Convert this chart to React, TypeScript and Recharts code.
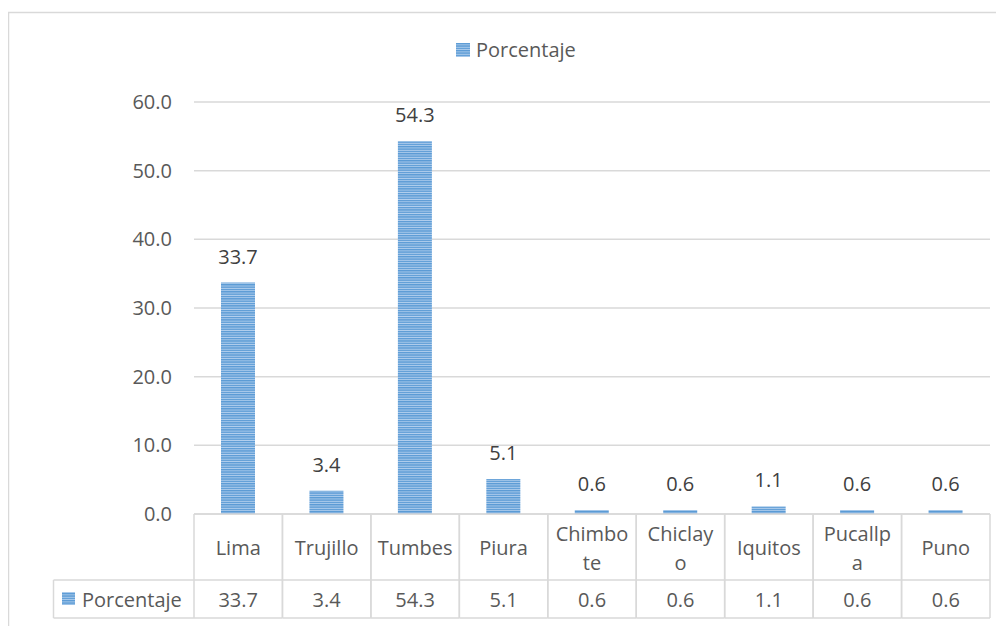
import React from 'react';
import { BarChart, Bar, XAxis, YAxis, CartesianGrid, LabelList, Legend } from 'recharts';

const categories = ['Lima', 'Trujillo', 'Tumbes', 'Piura', 'Chimbote', 'Chiclayo', 'Iquitos', 'Pucallpa', 'Puno'];
const categoryLabelLines = [['Lima'], ['Trujillo'], ['Tumbes'], ['Piura'], ['Chimbo', 'te'], ['Chiclay', 'o'], ['Iquitos'], ['Pucallp', 'a'], ['Puno']];
const porcentaje = [33.7, 3.4, 54.3, 5.1, 0.6, 0.6, 1.1, 0.6, 0.6];
const yTicks = [0, 10, 20, 30, 40, 50, 60];
const seriesName = 'Porcentaje';

const data = categories.map((c, i) => ({ category: c, porcentaje: porcentaje[i] }));

const W = 996;
const H = 618;
const MARGIN = { top: 30, right: 14, bottom: 8, left: 126 };
const Y_AXIS_W = 60;
const LEGEND_H = 64;
const X_AXIS_H = 104;
const PLOT_LEFT = MARGIN.left + Y_AXIS_W;
const PLOT_RIGHT = W - MARGIN.right;
const PLOT_BOTTOM = H - MARGIN.bottom - X_AXIS_H;
const BAND = (PLOT_RIGHT - PLOT_LEFT) / categories.length;
const ROW1 = 66;
const ROW2 = 104;
const LEGEND_CELL_LEFT = 45.5;

const FONT = "'Open Sans', 'Noto Sans', sans-serif";
const GRID = '#d9d9d9';
const TEXT = '#595959';

const TableTick = (props: any) => {
  const { x, payload } = props;
  const idx = payload.index ?? props.index ?? 0;
  const lines = categoryLabelLines[idx] || [String(payload.value)];
  const top = PLOT_BOTTOM;
  const l = x - BAND / 2;
  const r = x + BAND / 2;
  const lineYs = lines.length === 1 ? [top + 33] : [top + 19, top + 48];
  return (
    <g>
      <line x1={l} x2={l} y1={top} y2={top + ROW2} stroke={GRID} strokeWidth={1.5} />
      <line x1={r} x2={r} y1={top} y2={top + ROW2} stroke={GRID} strokeWidth={1.5} />
      <line x1={l} x2={r} y1={top + ROW1} y2={top + ROW1} stroke={GRID} strokeWidth={1.5} />
      <line x1={l} x2={r} y1={top + ROW2} y2={top + ROW2} stroke={GRID} strokeWidth={1.5} />
      {lines.map((t, i) => (
        <text key={i} x={x} y={lineYs[i]} textAnchor="middle" dominantBaseline="central" fill={TEXT} fontSize={20} fontFamily={FONT}>
          {t}
        </text>
      ))}
      <text x={x} y={top + 85} textAnchor="middle" dominantBaseline="central" fill={TEXT} fontSize={20} fontFamily={FONT}>
        {porcentaje[idx].toFixed(1)}
      </text>
      {idx === 0 && (
        <g>
          <line x1={LEGEND_CELL_LEFT} x2={l} y1={top + ROW1} y2={top + ROW1} stroke={GRID} strokeWidth={1.5} />
          <line x1={LEGEND_CELL_LEFT} x2={l} y1={top + ROW2} y2={top + ROW2} stroke={GRID} strokeWidth={1.5} />
          <line x1={LEGEND_CELL_LEFT} x2={LEGEND_CELL_LEFT} y1={top + ROW1} y2={top + ROW2} stroke={GRID} strokeWidth={1.5} />
          <rect x={54} y={top + 78} width={13} height={13} fill="url(#stripes)" />
          <text x={74} y={top + 85} dominantBaseline="central" fill={TEXT} fontSize={20} fontFamily={FONT}>
            {seriesName}
          </text>
        </g>
      )}
    </g>
  );
};

const LegendContent = () => (
  <div style={{ height: LEGEND_H, position: 'relative', width: W }}>
    <div style={{ position: 'absolute', left: 448, top: 0, display: 'flex', alignItems: 'center', height: 24 }}>
      <svg width={14} height={14} style={{ marginRight: 6 }}>
        <rect width={14} height={14} fill="url(#stripes)" />
      </svg>
      <span style={{ fontFamily: FONT, fontSize: 20, color: TEXT, lineHeight: '24px' }}>{seriesName}</span>
    </div>
  </div>
);

export default function App() {
  return (
    <div style={{ width: W, height: H, overflow: 'hidden', position: 'relative' }}>
      <BarChart width={W} height={H} data={data} margin={MARGIN} style={{ fontFamily: FONT }}>
        <defs>
          <pattern id="stripes" patternUnits="userSpaceOnUse" width={8} height={2.34}>
            <rect width={8} height={2.34} fill="#5b9bd5" />
            <rect y={1.4} width={8} height={0.94} fill="#b4d0ee" />
          </pattern>
        </defs>
        <rect x={0.5} y={4.5} width={1200} height={1000} fill="none" stroke={GRID} strokeWidth={1.5} />
        <Legend
          verticalAlign="top"
          align="left"
          wrapperStyle={{ left: 0, width: W, top: MARGIN.top }}
          content={() => <LegendContent />}
        />
        <CartesianGrid vertical={false} stroke={GRID} strokeWidth={1.5} />
        <YAxis
          width={Y_AXIS_W}
          domain={[0, 60]}
          ticks={yTicks}
          tickFormatter={(v: number) => v.toFixed(1)}
          axisLine={false}
          tickLine={false}
          tickSize={0}
          tickMargin={22}
          tick={{ fill: TEXT, fontSize: 20, fontFamily: FONT }}
        />
        <XAxis
          dataKey="category"
          height={X_AXIS_H}
          interval={0}
          tickLine={false}
          axisLine={{ stroke: GRID, strokeWidth: 1.5 }}
          tick={<TableTick />}
        />
        <Bar dataKey="porcentaje" name={seriesName} fill="url(#stripes)" barSize={34} isAnimationActive={false}>
          <LabelList
            dataKey="porcentaje"
            position="top"
            offset={19}
            formatter={(v: any) => Number(v).toFixed(1)}
            fill="#404040"
            fontSize={20}
            fontFamily={FONT}
          />
        </Bar>
      </BarChart>
    </div>
  );
}
